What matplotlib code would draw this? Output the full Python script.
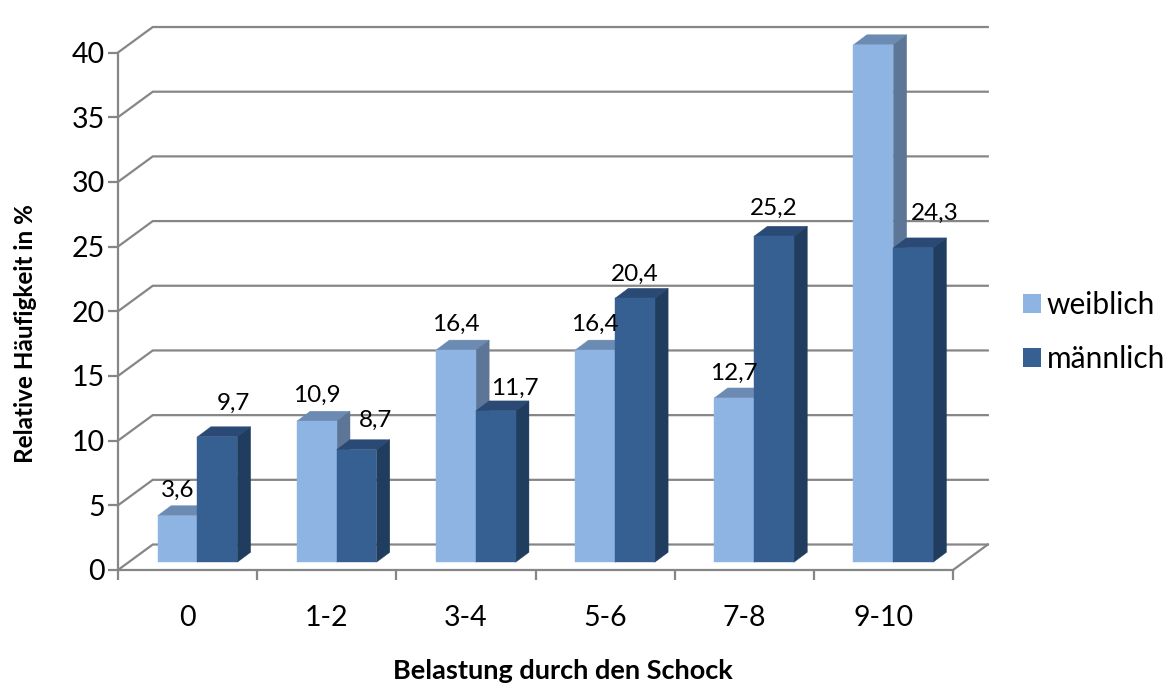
import matplotlib
matplotlib.use('AGG')
import matplotlib.pyplot as plt
from matplotlib.patches import Patch, Polygon

kategorien = ['0', '1-2', '3-4', '5-6', '7-8', '9-10']
weiblich = [3.6, 10.9, 16.4, 16.4, 12.7, 40.0]
maennlich = [9.7, 8.7, 11.7, 20.4, 25.2, 24.3]
y_ticks = [0, 5, 10, 15, 20, 25, 30, 35, 40]

# label offsets in pixels from the middle of the bar top, placed by hand in the original
versatz_w = [(0, 25.5), (0, 25.5), (0, 25.5), (0, 25.5), (0, 24.5), (0, 25.5)]
versatz_m = [(16, 33.5), (19, 29.5), (19, 22.5), (0, 23.5), (0, 27.5), (22, 34.5)]

GRAU = '#868686'
HELL = ('#8DB4E3', '#6C8BB2', '#5D7697')
DUNKEL = ('#376092', '#2A4A75', '#203D5F')

# depth of the room and of the bars, in axis units
TIEFE_X, TIEFE_Y = 0.25, 1.97
BAR_TX, BAR_TY = 0.096, 0.77
BAR_B = 0.286
BAR_X0 = 0.285
BODEN = 0.6

W, H = 1173, 684
plt.rcParams['font.family'] = ['Lato', 'DejaVu Sans']
fig = plt.figure(figsize=(W / 100, H / 100), dpi=100)
ax = fig.add_axes([118 / W, 1 - 570 / H, 835 / W, 517.5 / H])
ax.set_xlim(0, len(kategorien))
ax.set_ylim(0, 40)


def saeule(x, wert, farben, z):
    u, o = BODEN, BODEN + wert
    r = x + BAR_B
    flaechen = [
        ([(x, o), (r, o), (r + BAR_TX, o + BAR_TY), (x + BAR_TX, o + BAR_TY)], farben[1]),
        ([(r, u), (r + BAR_TX, u + BAR_TY), (r + BAR_TX, o + BAR_TY), (r, o)], farben[2]),
        ([(x, u), (r, u), (r, o), (x, o)], farben[0]),
    ]
    for punkte, farbe in flaechen:
        ax.add_patch(Polygon(punkte, closed=True, facecolor=farbe, edgecolor=farbe,
                             linewidth=0.3, clip_on=False, zorder=z))


# walls and floor
for t in y_ticks:
    ax.plot([0, TIEFE_X, 6 + TIEFE_X], [t, t + TIEFE_Y, t + TIEFE_Y], color=GRAU, lw=1.6,
            clip_on=False, zorder=1, solid_joinstyle='miter')
ax.plot([6, 6 + TIEFE_X], [0, TIEFE_Y], color=GRAU, lw=1.6, clip_on=False, zorder=1)

for i in range(len(kategorien)):
    x0 = i + BAR_X0
    saeule(x0, weiblich[i], HELL, 2 + i * 2)
    saeule(x0 + BAR_B, maennlich[i], DUNKEL, 3 + i * 2)
    for x, wert, (dx, dy) in [(x0, weiblich[i], versatz_w[i]),
                              (x0 + BAR_B, maennlich[i], versatz_m[i])]:
        ax.annotate(f'{wert:.1f}'.replace('.', ','),
                    (x + BAR_B / 2, BODEN + wert),
                    xytext=(dx * 0.72, dy * 0.72), textcoords='offset points',
                    ha='center', va='center', fontsize=17.5, color='black', zorder=30)

for s in ['top', 'right']:
    ax.spines[s].set_visible(False)
for s in ['left', 'bottom']:
    ax.spines[s].set_color(GRAU)
    ax.spines[s].set_linewidth(1.6)
ax.patch.set_visible(False)

ax.set_yticks(y_ticks)
ax.set_xticks(range(len(kategorien) + 1))
ax.set_xticklabels([])
ax.set_xticks([i + 0.5 for i in range(len(kategorien))], minor=True)
ax.set_xticklabels(kategorien, minor=True)
ax.tick_params(axis='both', which='major', length=7.5, width=1.6, color=GRAU, labelsize=20.5)
ax.tick_params(axis='y', pad=2)
ax.tick_params(axis='x', which='minor', length=0, labelsize=20.5, pad=25)

ax.set_xlabel('Belastung durch den Schock', fontsize=19.5, fontweight='bold')
ax.xaxis.set_label_coords(0.533, -0.172)
ax.set_ylabel('Relative Häufigkeit in %', fontsize=17.5, fontweight='bold')
ax.yaxis.set_label_coords(-0.097, 0.456)

griffe = [Patch(facecolor=HELL[0], label='weiblich'), Patch(facecolor=DUNKEL[0], label='männlich')]
fig.legend(handles=griffe, loc='center left', bbox_to_anchor=(996 / W, 1 - 332 / H), frameon=False,
           fontsize=21.5, handlelength=0.6, handleheight=0.6, handletextpad=0.2, labelspacing=0.9)

fig.savefig('out.png', dpi=100)
